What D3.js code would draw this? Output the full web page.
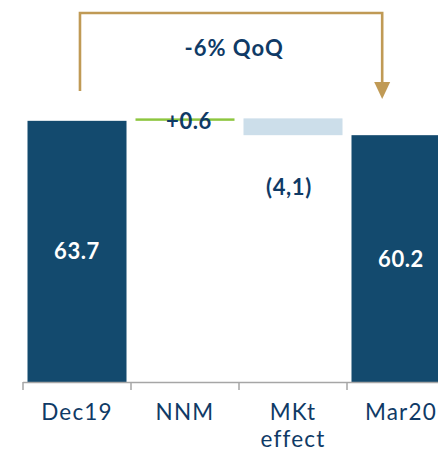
<!DOCTYPE html>
<html>
<head>
<meta charset="utf-8">
<script src="https://cdn.jsdelivr.net/npm/d3@7"></script>
<style>
  html, body { margin: 0; padding: 0; background: #fff; }
  svg { display: block; font-family: Lato, "Open Sans", sans-serif; }
</style>
</head>
<body>
<svg id="chart" width="438" height="451"></svg>
<script>
// Waterfall: assets bridge from Dec19 to Mar20
const categories = ["Dec19", "NNM", "MKt effect", "Mar20"];
const values = [63.7, 0.6, -4.1, 60.2];
const kinds = ["total", "delta", "delta", "total"];
const valueLabels = ["63.7", "+0.6", "(4,1)", "60.2"];
const changeLabel = "-6% QoQ";

const colors = { total: "#134A6E", up: "#8DC63F", down: "#CCDEEA", text: "#0F3A66", axis: "#A6A6A6", arrow: "#C09A55" };

const svg = d3.select("#chart");

const x = d3.scaleBand()
  .domain(categories)
  .range([23, 455])
  .paddingInner(0.0833)
  .paddingOuter(0.0417);

const baseY = 382;
const y = d3.scaleLinear().domain([0, 65]).range([baseY, baseY - 65 * 4.1]);

// running totals for the floating bars
let run = 0;
const bars = categories.map((c, i) => {
  let start, end;
  if (kinds[i] === "total") { start = 0; end = values[i]; run = values[i]; }
  else { start = run; end = run + values[i]; run = end; }
  return { cat: c, start, end, kind: kinds[i], value: values[i], label: valueLabels[i] };
});

const fillOf = d => d.kind === "total" ? colors.total : (d.value >= 0 ? colors.up : colors.down);

svg.append("g").selectAll("rect")
  .data(bars)
  .join("rect")
  .attr("x", d => x(d.cat))
  .attr("width", x.bandwidth())
  .attr("y", d => y(Math.max(d.start, d.end)))
  .attr("height", d => Math.abs(y(d.start) - y(d.end)))
  .attr("fill", fillOf);

// value labels
svg.append("g").selectAll("text")
  .data(bars)
  .join("text")
  .attr("x", d => x(d.cat) + x.bandwidth() / 2 + (d.kind === "total" ? 0 : (d.value >= 0 ? 4 : -4)))
  .attr("y", d => {
    if (d.kind === "total") return (y(0) + y(d.end)) / 2 + 8;
    if (d.value >= 0) return y(d.end) + 11;
    return y(d.end) + 60;
  })
  .attr("text-anchor", "middle")
  .attr("font-weight", "bold")
  .attr("font-size", 22)
  .attr("letter-spacing", 0.6)
  .attr("fill", d => d.kind === "total" ? "#fff" : colors.text)
  .text(d => d.label);

// category axis with ticks on the band boundaries
const step = x.step();
const bounds = categories.map(c => x(c) - x.paddingInner() * step / 2);
const axis = svg.append("g").attr("stroke", colors.axis).attr("stroke-width", 1.5);
axis.append("line").attr("x1", bounds[0]).attr("x2", 438).attr("y1", baseY + 0.5).attr("y2", baseY + 0.5);
axis.selectAll("line.tick")
  .data(bounds)
  .join("line")
  .attr("class", "tick")
  .attr("x1", d => d).attr("x2", d => d)
  .attr("y1", baseY).attr("y2", baseY + 8);

const catText = svg.append("g").selectAll("text")
  .data(categories)
  .join("text")
  .attr("x", c => x(c) + x.bandwidth() / 2)
  .attr("y", 420)
  .attr("text-anchor", "middle")
  .attr("font-size", 22.5)
  .attr("letter-spacing", 1.2)
  .attr("fill", colors.text);
catText.each(function(c) {
  const words = c.split(" ");
  d3.select(this).selectAll("tspan")
    .data(words)
    .join("tspan")
    .attr("x", x(c) + x.bandwidth() / 2)
    .attr("dy", (w, i) => i === 0 ? 0 : 26.5)
    .text(w => w);
});

// quarter-over-quarter bracket arrow
const ax0 = x(categories[0]) + x.bandwidth() * 0.53;
const ax1 = x(categories[3]) + x.bandwidth() * 0.31;
const topY = 13, startY = 91, headBase = 82, headTip = 99;
svg.append("path")
  .attr("d", d3.line()([[ax0, startY], [ax0, topY], [ax1, topY], [ax1, headBase]]))
  .attr("fill", "none")
  .attr("stroke", colors.arrow)
  .attr("stroke-width", 2.6);
svg.append("path")
  .attr("d", d3.line()([[ax1 - 8, headBase], [ax1 + 8, headBase], [ax1, headTip]]) + "Z")
  .attr("fill", colors.arrow);

svg.append("text")
  .attr("x", (ax0 + ax1) / 2 + 3)
  .attr("y", 56)
  .attr("text-anchor", "middle")
  .attr("font-weight", "bold")
  .attr("font-size", 22)
  .attr("letter-spacing", 1)
  .attr("fill", colors.text)
  .text(changeLabel);
</script>
</body>
</html>
